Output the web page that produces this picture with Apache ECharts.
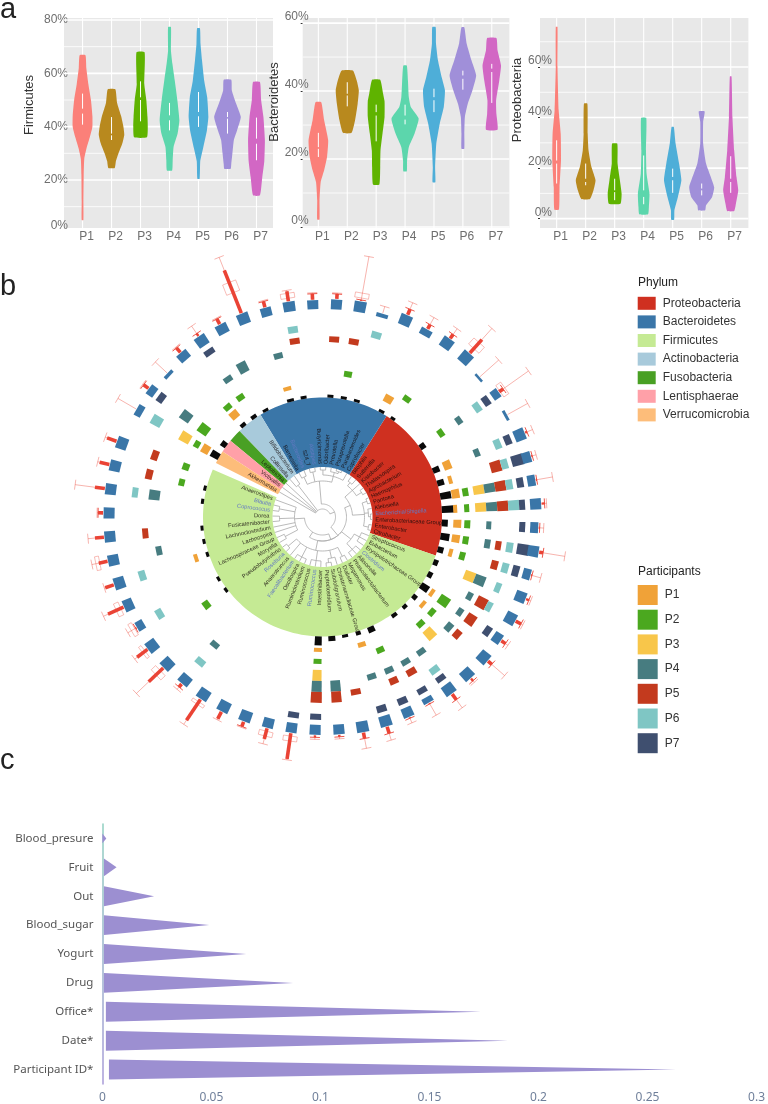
<!DOCTYPE html>
<html><head><meta charset="utf-8">
<style>html,body{margin:0;padding:0;background:#fff}#c{width:768px;height:1104px}</style>
<script src="https://cdn.jsdelivr.net/npm/echarts@6/dist/echarts.min.js"></script>
</head><body><div id="c"></div>
<script>
// ---------- panel a data: each violin is a list of [percent, half width in category units]
const participants = ['P1','P2','P3','P4','P5','P6','P7'];
const violinColors = ['#fb8079','#b8891e','#5fb300','#5cd6ac','#4eaed8','#a08fd9','#d267c4'];
const firmicutes = [
 [[66.8,.10],[62,.13],[56,.2],[50,.29],[44,.34],[40,.34],[36,.25],[32,.14],[28,.06],[22,.04],[12,.03],[5,.03]],
 [[54,.13],[49,.19],[44,.33],[40,.41],[37,.44],[34,.38],[30,.24],[27,.15],[24.5,.11]],
 [[67.9,.14],[56,.13],[50,.2],[43.6,.24],[40,.25],[36,.22]],
 [[77.4,.05],[68.6,.05],[63.6,.1],[57.4,.18],[50,.27],[42.4,.34],[37.4,.28],[32.4,.14],[27.4,.11],[23.6,.09]],
 [[76.9,.05],[71,.07],[65,.12],[57,.2],[51,.3],[43.6,.34],[38.6,.29],[32,.16],[27,.06],[20.5,.04]],
 [[57.6,.13],[53.6,.15],[48.6,.3],[43.6,.46],[38.6,.33],[35,.22],[30,.17],[26,.13],[24.2,.11]],
 [[56.75,.12],[50,.16],[43.6,.24],[35,.29],[27,.27],[21,.2],[14.25,.12]]
];
const firmicutesBox = [[52.4,46.75,44.9,40.75],[43.6,37.4,36.75,35],[57,51,50,42],[48.9,44.25,42.4,38.6],[53,45.5,43.9,39.9],[45.5,43.6,43,37.4],[43.4,35.5,33.6,27.4]];
const bacteroidetes = [
 [[36.7,.1],[31.4,.2],[25.5,.34],[20.6,.3],[16.7,.2],[13.2,.08],[7.8,.04],[2.2,.04]],
 [[46,.2],[43,.33],[40.2,.4],[36.3,.36],[31.4,.27],[27.7,.15]],
 [[43.3,.14],[39.2,.24],[37,.29],[32.4,.29],[27.5,.22],[22.5,.15],[17.6,.14],[12.5,.11]],
 [[47.5,.06],[43,.1],[38.2,.13],[35.3,.2],[31.9,.47],[27.5,.33],[23.5,.13],[19.6,.07],[16.4,.06]],
 [[58.8,.06],[54,.07],[49,.14],[44,.27],[40.2,.38],[35.3,.34],[30.4,.2],[24.5,.08],[17.6,.04],[13.2,.05]],
 [[58.8,.05],[54,.13],[49,.3],[44.6,.46],[40.2,.33],[36.3,.17],[32.4,.07],[27.5,.05],[23,.05]],
 [[55.6,.16],[52,.2],[47.5,.32],[43.1,.26],[37.3,.15],[33.3,.16],[28.6,.2]]
];
const bacteroidetesBox = [[27.7,23.5,23,20.6],[42.6,39.2,38.7,35.5],[36,33.8,32.8,25.2],[36,32.8,31.6,30.2],[40.7,38.2,37.3,33.8],[46,44.6,43.6,40.4],[48,46.6,45.6,36.5]];
const proteobacteria = [
 [[75.9,.03],[60,.03],[42.9,.07],[33.6,.14],[23,.15],[12.5,.1],[3.6,.08]],
 [[45.5,.06],[33.6,.07],[27,.1],[20.4,.2],[15.2,.34],[11.2,.27],[7.8,.15]],
 [[29.7,.09],[21.8,.1],[15.2,.18],[9.9,.24],[5.9,.2]],
 [[39.8,.09],[27,.08],[17.8,.1],[9.9,.2],[4.6,.18],[1.7,.15]],
 [[36.3,.04],[29.7,.1],[21.8,.22],[15.2,.3],[8.6,.18],[3.3,.06],[-.4,.05]],
 [[42.5,.1],[40.9,.09],[38.3,.05],[29.7,.05],[21.8,.15],[12.5,.43],[8.6,.36],[5.3,.15],[3.3,.12]],
 [[56.3,.03],[40.2,.06],[27,.12],[16.5,.2],[11.2,.26],[5.9,.18],[3,.12]]
];
const proteobacteriaBox = [[31,23,21.8,13.9],[21.8,15.8,14.5,13.2],[15.8,11.2,10.5,7.3],[25,11.2,8.6,5.7],[19.8,16.5,15.2,10.2],[13.9,11.9,11.2,9.2],[24.7,15.8,14.5,10.2]];

// ---------- panel b data
const phylumNames = ['Proteobacteria','Bacteroidetes','Firmicutes','Actinobacteria','Fusobacteria','Lentisphaerae','Verrucomicrobia'];
const phylumColors = ['#cf3020','#3a76a8','#c5ea94','#a8cadb','#49a024','#ffa0a8','#fdbd7a'];
const phylumFirst = [15,5,27,3,2,1,0];
const phylumLast  = [26,14,55,4,2,1,0];
const genera = ['Akkermansia','Victivallis','Leptotrichia','Collinsella','Bifidobacterium','Barnesiella','Bacteroides','S24_7','Alistipes','Butyricimonas','Odoribacter','Prevotella','Paraprevotella','Parabacteroides','Coprobacter','Bilophila','Sutterella','Kistobacter','Thalassospira','Agrobacterium','Haemophilus','Pantoea','Klebsiella','Escherichia/Shigella','Enterobacteriaceae Group','Enterobacter','Citrobacter','Streptococcus','Eubacterium','Erysipelotrichaceae Group','Clostridium','Allisonella','Phascolarctobacterium','Megamonas','Dialister','Christensenellaceae Group','Subdoligranulum','Peptoclostridium','Intestinibacter','Ruminococcus','Ruminococcus','Ruminiclostridium','Oscillospira','Faecalibacterium','Anaerotruncus','Roseburia','Pseudobutyrivibrio','Moryella','Lachnospiraceae Group','Lachnospira','Lachnoclostridium','Fusicatenibacter','Dorea','Coprococcus','Blautia','Anaerostipes'];
const blueGenera = [6,8,23,30,39,43,45,53,54];
// nested clades: [node radius, child, child...]; an integer child is a genus index
const treeClades = [8,0,1,2,[40,3,4],
 [13,
  [36,[44,5,6],[46,7,8],[42,[47,9,10],[46,11,[48,12,13]],14]],
  [24,
   [30,[40,[44,15,16],17,[46,18,19]],[42,[47,20,21],[46,22,[48,23,24]],[47,25,26]]],
   [18,
    [24,[36,[42,27,28,29],[44,30,31,32]],[34,[44,33,34],[42,35,[46,36,37]],[44,38,39,40],[45,41,42,43],44,[45,45,46]]],
    [28,[42,47,48],49,50,[43,51,52],[44,53,54],55]
   ]
  ]
 ]
];
// ring tiles: [genus index, tangential size, radial size]
const blackRing = [[0,7,9],[1,6,6],[3,6,4],[4,6,4],[5,6,3],[7,7,3],[8,6,3],[10,6,3],[11,6,3],[12,6,3],[14,6,3],[15,5,3],[18,6,6],[20,6,7],[21,6,7],[22,7,11],[23,7,12],[24,7,6],[25,7,9],[26,6,6],[27,6,5],[28,6,5],[29,7,9],[30,5,5],[31,5,4],[32,6,4],[34,7,6],[35,5,4],[36,6,3],[37,7,5],[38,7,9],[46,5,3],[47,5,3],[49,5,3],[50,5,3],[51,5,3],[53,5,3],[54,5,3]];
const ringP1 = [[0,9,8],[3,9,8],[7,8,4],[14,9,8],[20,9,8],[21,8,4],[22,9,8],[23,8,4],[24,8,8],[25,8,8],[26,8,4],[29,8,4],[30,8,4],[35,8,5],[38,8,4],[49,8,4]];
const ringP2 = [[0,7,6],[1,10,11],[3,8,6],[4,8,6],[11,8,6],[15,8,6],[18,8,6],[22,8,6],[23,8,5],[24,8,6],[25,8,6],[26,8,6],[29,10,11],[30,8,6],[31,8,6],[34,8,6],[38,8,5],[46,8,7],[54,7,6],[55,7,7]];
const ringP3 = [[0,10,11],[22,9,11],[23,9,11],[27,10,11],[31,10,11],[38,9,11]];
const ringP4 = [[1,10,11],[4,9,6],[5,10,11],[7,9,6],[18,8,6],[20,8,6],[22,9,11],[23,9,11],[24,8,5],[25,9,6],[27,10,11],[28,8,6],[29,8,6],[30,9,7],[32,9,6],[33,9,6],[34,9,6],[35,9,6],[37,10,11],[38,10,11],[44,9,6],[50,9,6],[53,10,11]];
const ringP5 = [[8,10,6],[10,10,6],[11,10,6],[21,11,11],[22,10,11],[23,10,11],[25,9,6],[26,9,7],[28,11,11],[29,11,10],[30,9,7],[33,10,7],[34,9,7],[36,10,6],[37,10,11],[38,11,11],[51,10,6],[54,10,7],[55,10,7]];
const ringP6 = [[0,10,11],[8,10,7],[12,10,7],[18,10,7],[20,10,7],[21,10,7],[22,10,7],[23,10,11],[25,10,7],[26,10,7],[27,10,6],[28,10,6],[32,10,7],[44,10,7],[47,10,7],[49,10,7],[53,10,6]];
const ringP7 = [[1,10,7],[4,11,6],[18,10,7],[20,10,7],[21,11,12],[22,10,7],[23,10,6],[24,10,6],[25,11,12],[26,11,7],[29,10,7],[32,10,6],[33,10,6],[34,10,7],[35,10,7],[38,11,6],[39,11,6]];
const ringBlueT = [12,11,11,12,12,12,12,11,12,11,11,12,12,12,12,12,12,10,10,11,12,11,11,11,11,11,11,11,12,11,12,12,12,11,11,12,12,11,11,11,11,12,12,12,12,12,12,10,12,12,11,11,11,11,11,12];
const ringBlueR = [7,8,3.5,9,11,10,11,9,10,9,10,11,4,11,7,11,12,2.5,8,3,11,9,8,11,8,11,8,11,11,9,11,11,11,6,10,11,11,10,10,10,10,11,11,11,10,11,11,8,10,11,11,11,11,11,11,11];
// boxplots beyond the blue ring, per genus: outlier run, whisker, box from, box to
const boxRun   = [0,6,0,6,3,6,46,6,10,6,5,1,0,6,5,5,18,0,5,0,2,1,1,3,1,4,1,3,6,5,5,3,7,1,1,7,6,2,2,26,11,5,8,25,4,20,13,1,17,9,9,9,5,10,10,10];
const boxWhisk = [21,7,16,7,12,7,60,7,11,7,6,45,7,13,13,12,33,25,36,23,8,5,17,5,5,26,10,5,8,8,22,5,17,14,6,14,16,4,4,27,16,6,9,30,7,37,16,10,22,10,16,16,6,30,12,12];
const boxFrom  = [0,0,0,0,0,0,22,0,3,0,0,3,0,0,0,0,6,0,1,0,0,0,0,0,0,0,0,0,0,0,0,0,0,0,0,0,0,0,0,3,3,0,0,3,0,4,3,2,3,0,8,0,0,0,0,0];
const boxTo    = [0,0,0,0,0,0,33,0,8,0,0,8,0,0,0,0,14,0,7,0,0,0,0,0,0,0,0,0,0,0,0,0,0,0,0,0,0,0,0,8,8,0,0,6,0,10,6,6,8,0,12,0,0,0,0,0];
const participantColors = ['#f0a238','#4ba81f','#f8c64a','#477c80','#c33a1e','#7fc6c4','#3f4f6f'];

// ---------- panel c data
const importanceNames = ['Blood_presure','Fruit','Out','Blood_sugar','Yogurt','Drug','Office*','Date*','Participant ID*'];
const importanceValues = [0.0018,0.0065,0.0237,0.049,0.066,0.0875,0.1736,0.186,0.263];
const importanceBase = [0,0.0007,0.0007,0.0007,0.0007,0.0007,0.0016,0.0016,0.003];

// ---------- drawing helpers
const FONT = '"Liberation Sans",Arial,sans-serif';
const START = 300.1, STEP = 6.365;
const ang = k => (START + k*STEP) % 360;
const rad = a => a*Math.PI/180;
const RINGS = {black:119.5,P1:131,P2:142,P3:153,P4:164,P5:175,P6:186,P7:197,blue:208};
const SECTOR_IN = 50, SECTOR_OUT = 119.5;

function tileSeries(name, list, base, color){
  return {type:'custom',name,coordinateSystem:'polar',silent:true,z:3,
    itemStyle:{color},data:list,
    renderItem(p,api){
      const k=api.value(0),t=api.value(1),h=api.value(2);
      const rm=base+h/2, da=(t/2)/rm*180/Math.PI, a=START+k*STEP;
      const pts=[[base,a-da],[base,a+da],[base+h,a+da],[base+h,a-da]].map(q=>api.coord([q[0],q[1]%360]));
      return {type:'polygon',shape:{points:pts},style:{fill:color}};
    }};
}
function sectorSeries(i){
  return {type:'custom',name:phylumNames[i],coordinateSystem:'polar',silent:true,z:2,
    itemStyle:{color:phylumColors[i]},data:[[phylumFirst[i],phylumLast[i]]],
    renderItem(p,api){
      const a0=START+(api.value(0)-.5)*STEP, a1=START+(api.value(1)+.5)*STEP, pts=[];
      const n=Math.ceil((a1-a0)/2);
      for(let j=0;j<=n;j++)pts.push(api.coord([SECTOR_OUT,(a0+(a1-a0)*j/n)%360]));
      for(let j=n;j>=0;j--)pts.push(api.coord([SECTOR_IN,(a0+(a1-a0)*j/n)%360]));
      return {type:'polygon',shape:{points:pts},style:{fill:phylumColors[i]}};
    }};
}
// flatten the nested clades into paths in [radius, angle] values
const treePaths=[];
(function walk(node){
  if(typeof node==='number')return {k:node,r:50};
  const r=node[0],kids=node.slice(1).map(walk);
  kids.forEach(c=>treePaths.push([[r,START+c.k*STEP],[c.r,START+c.k*STEP]]));
  const a=kids[0].k,b=kids[kids.length-1].k,arc=[];
  const n=Math.max(2,Math.ceil((b-a)*STEP/3));
  for(let j=0;j<=n;j++)arc.push([r,START+(a+(b-a)*j/n)*STEP]);
  treePaths.push(arc);
  return {k:(a+b)/2,r};
})(treeClades);

function boxSeries(){
  const red='#ea4335',pale='rgba(234,67,53,.5)';
  return {type:'custom',coordinateSystem:'polar',silent:true,z:3,
    data:boxWhisk.map((w,k)=>[k,boxRun[k],w,boxFrom[k],boxTo[k]]),
    renderItem(p,api){
      const k=api.value(0),run=api.value(1),wh=api.value(2),b0=api.value(3),b1=api.value(4);
      const r0=RINGS.blue+ringBlueR[k]+.5,a=START+k*STEP,kids=[];
      const P=(r,off)=>api.coord([r,(a+(off/r)*180/Math.PI+360)%360]);
      const line=(pts,s,w)=>kids.push({type:'polyline',shape:{points:pts},style:{stroke:s,lineWidth:w,fill:null}});
      line([P(r0,0),P(r0+wh,0)],pale,.8);
      line([P(r0+wh,-5),P(r0+wh,5)],pale,.8);
      if(b1>b0){const x=r0+b0,y=r0+b1;kids.push({type:'polygon',shape:{points:[P(x,-7),P(x,7),P(y,7),P(y,-7)]},style:{stroke:pale,lineWidth:.7,fill:null}});}
      if(run>0){line([P(r0,0),P(r0+run,0)],red,run>3?3.6:2.4);if(run<8)line([P(r0+run,-5),P(r0+run,5)],red,.9);}
      return {type:'group',children:kids};
    }};
}
// violins
function gridLineSeries(idx,major,minor){
  const rows=major.map(v=>[v,1.6]).concat(minor.map(v=>[v,.8]));
  const cols=[1,2,3,4,5,6,7];
  return {type:'custom',xAxisIndex:idx,yAxisIndex:idx,silent:true,z:1,data:[[1,30]],
    renderItem(p,api){
      const g=p.coordSys,kids=[];
      rows.forEach(r=>{const y=api.coord([1,r[0]])[1];kids.push({type:'line',shape:{x1:g.x,y1:y,x2:g.x+g.width,y2:y},style:{stroke:'#fff',lineWidth:r[1]}});});
      cols.forEach(c=>{const x=api.coord([c,30])[0];kids.push({type:'line',shape:{x1:x,y1:g.y,x2:x,y2:g.y+g.height},style:{stroke:'#fff',lineWidth:1.1}});});
      return {type:'group',children:kids};
    }};
}
function violinSeries(idx,profiles,boxes){
  return {type:'custom',xAxisIndex:idx,yAxisIndex:idx,silent:true,z:3,
    data:profiles.map((q,i)=>[i+1,q[0][0]]),
    renderItem(p,api){
      const i=p.dataIndex,x=i+1,prof=profiles[i],b=boxes[i];
      const L=prof.map(q=>api.coord([x-q[1],q[0]])),R=prof.map(q=>api.coord([x+q[1],q[0]])).reverse();
      const seg=(a,c)=>({type:'line',shape:{x1:api.coord([x,a])[0],y1:api.coord([x,a])[1],x2:api.coord([x,c])[0],y2:api.coord([x,c])[1]},style:{stroke:'#fff',lineWidth:1}});
      return {type:'group',children:[
        {type:'polygon',shape:{points:L.concat(R),smooth:.15},style:{fill:violinColors[i]}},
        seg(b[0],b[1]),seg(b[2],b[3])]};
    }};
}
function panelAxes(o){
  return {
    x:{type:'value',gridIndex:o.i,min:o.xMin,max:o.xMax,splitLine:{show:false},axisLine:{show:false},
      axisTick:{show:false},
      axisLabel:{customValues:[1,2,3,4,5,6,7],formatter:v=>participants[v-1],fontFamily:FONT,fontSize:12,color:'#6e6e6e',margin:3,padding:[0,0,0,8]}},
    y:{type:'value',gridIndex:o.i,min:o.yMin,max:o.yMax,name:o.name,nameLocation:'middle',nameGap:o.nameGap,
      nameTextStyle:{fontFamily:FONT,fontSize:13,color:'#333',padding:[0,0,0,o.namePad]},
      splitLine:{show:false},axisLine:{show:false},
      axisTick:{show:o.ticks,length:2,lineStyle:{color:'#333'},customValues:o.major},
      axisLabel:{customValues:o.labelValues,formatter:v=>(o.zeroAt===v?0:v)+'%',fontFamily:FONT,fontSize:12,color:'#6e6e6e',margin:o.labelMargin,verticalAlign:o.labelAlign}}
  };
}
const A=[
 panelAxes({i:0,xMin:.36,xMax:7.57,yMin:2,yMax:80.75,name:'Firmicutes',nameGap:28,namePad:36,major:[20,40,60,80],labelValues:[3,20,40,60,80],zeroAt:3,labelMargin:-4,labelAlign:'middle',ticks:false}),
 panelAxes({i:1,xMin:.458,xMax:7.61,yMin:-.3,yMax:61.5,name:'Bacteroidetes',nameGap:14,namePad:42,major:[0,20,40,60],labelValues:[0,20,40,60],labelMargin:-6,labelAlign:'bottom',ticks:true}),
 panelAxes({i:2,xMin:.426,xMax:7.61,yMin:-3.7,yMax:79.4,name:'Proteobacteria',nameGap:9,namePad:46,major:[0,20,40,60],labelValues:[0,20,40,60],labelMargin:-12,labelAlign:'bottom',ticks:true})
];
const titleStyle=(size)=>({fontFamily:FONT,fontSize:size,fontWeight:'normal',color:'#222'});
const option={
 animation:false,backgroundColor:'#fff',
 title:[
  {text:'a',left:0,top:-5,padding:0,textStyle:titleStyle(29)},
  {text:'b',left:0,top:272,padding:0,textStyle:titleStyle(29)},
  {text:'c',left:0,top:746,padding:0,textStyle:titleStyle(29)},
  {text:'Phylum',left:638,top:277,padding:0,textStyle:titleStyle(12)},
  {text:'Participants',left:638,top:566,padding:0,textStyle:titleStyle(12)}
 ],
 legend:[
  {orient:'vertical',left:632.7,top:291.8,itemWidth:18,itemHeight:13,itemGap:5.6,icon:'rect',selectedMode:false,data:phylumNames,textStyle:{fontFamily:FONT,fontSize:12,color:'#333',padding:[0,0,0,2]}},
  {orient:'vertical',left:632.7,top:580,itemWidth:20,itemHeight:20,itemGap:4.7,icon:'rect',selectedMode:false,data:participants,textStyle:{fontFamily:FONT,fontSize:12,color:'#333',padding:[0,0,0,2]}}
 ],
 grid:[
  {left:64,top:18,width:209,height:210,show:true,backgroundColor:'#e8e8e8',borderWidth:0},
  {left:302.7,top:18,width:206.7,height:210,show:true,backgroundColor:'#e8e8e8',borderWidth:0},
  {left:540,top:18,width:208.4,height:210,show:true,backgroundColor:'#e8e8e8',borderWidth:0},
  {left:102.4,top:824,width:657.6,height:260}
 ],
 xAxis:[A[0].x,A[1].x,A[2].x,
  {type:'value',gridIndex:3,min:0,max:0.3,interval:0.05,splitLine:{show:false},axisLine:{show:false},axisTick:{show:false},
   axisLabel:{fontFamily:'"Noto Sans",sans-serif',fontSize:12,color:'#6f7f9a',margin:8,formatter:v=>String(+v.toFixed(2))}}],
 yAxis:[A[0].y,A[1].y,A[2].y,
  {type:'category',gridIndex:3,inverse:true,data:importanceNames,
   axisLine:{show:true,lineStyle:{width:1.5,color:{type:'linear',x:0,y:0,x2:0,y2:1,colorStops:[{offset:0,color:'#8fd0c0'},{offset:1,color:'#a89ad8'}]}}},
   axisTick:{show:false},axisLabel:{fontFamily:'"Noto Sans",sans-serif',fontSize:11.5,color:'#555',margin:9}}],
 polar:{center:[322.5,517],radius:300},
 radiusAxis:{type:'value',min:0,max:300,axisLine:{show:false},axisTick:{show:false},axisLabel:{show:false},splitLine:{show:false}},
 angleAxis:{type:'value',min:0,max:360,startAngle:90,clockwise:true,axisLine:{show:false},axisTick:{show:false},axisLabel:{show:false},splitLine:{show:false}},
 series:[
  gridLineSeries(0,[20,40,60,80],[10,30,50,70]),
  gridLineSeries(1,[0,20,40,60],[10,30,50]),
  gridLineSeries(2,[0,20,40,60],[10,30,50,70]),
  violinSeries(0,firmicutes,firmicutesBox),
  violinSeries(1,bacteroidetes,bacteroidetesBox),
  violinSeries(2,proteobacteria,proteobacteriaBox),
  ...phylumNames.map((n,i)=>sectorSeries(i)),
  {type:'custom',coordinateSystem:'polar',silent:true,z:3,data:treePaths.map((q,i)=>[50,i]),
   renderItem(p,api){
     return {type:'polyline',shape:{points:treePaths[p.dataIndex].map(q=>api.coord([q[0],q[1]%360]))},style:{stroke:'#a8a8a8',lineWidth:.8,fill:null}};
   }},
  {type:'custom',coordinateSystem:'polar',silent:true,z:4,data:genera.map((g,k)=>[53,k]),
   renderItem(p,api){
     const k=p.dataIndex,a=ang(k),right=a<180,pt=api.coord([53,a]);
     return {type:'text',x:pt[0],y:pt[1],rotation:right?Math.PI/2-rad(a):3*Math.PI/2-rad(a),
       style:{text:genera[k],fontFamily:FONT,fontSize:5.7,fill:blueGenera.includes(k)?'#6479c2':'rgba(20,10,10,.85)',align:right?'left':'right',verticalAlign:'middle'}};
   }},
  tileSeries('Presence',blackRing,RINGS.black,'#0a0a0a'),
  ...participants.map((n,i)=>tileSeries(n,[ringP1,ringP2,ringP3,ringP4,ringP5,ringP6,ringP7][i],RINGS[n],participantColors[i])),
  tileSeries('Outer',ringBlueT.map((t,k)=>[k,t,ringBlueR[k]]),RINGS.blue,'#3a76a8'),
  boxSeries(),
  {type:'custom',xAxisIndex:3,yAxisIndex:3,silent:true,z:3,encode:{x:0,y:1},
   data:importanceValues.map((v,i)=>[v,i]),
   renderItem(p,api){
     const i=p.dataIndex,v=importanceValues[i],b=importanceBase[i];
     const h=api.size([0,1])[1]*(i===0?.34:i===1?.62:.69)/2,c=api.coord([v,i]),l=api.coord([b,i]);
     return {type:'polygon',shape:{points:[[l[0],c[1]-h],[c[0],c[1]],[l[0],c[1]+h]]},style:{fill:'#9c8fd1'}};
   }}
 ]
};
echarts.init(document.getElementById('c'),null,{renderer:'canvas'}).setOption(option);
</script></body></html>
